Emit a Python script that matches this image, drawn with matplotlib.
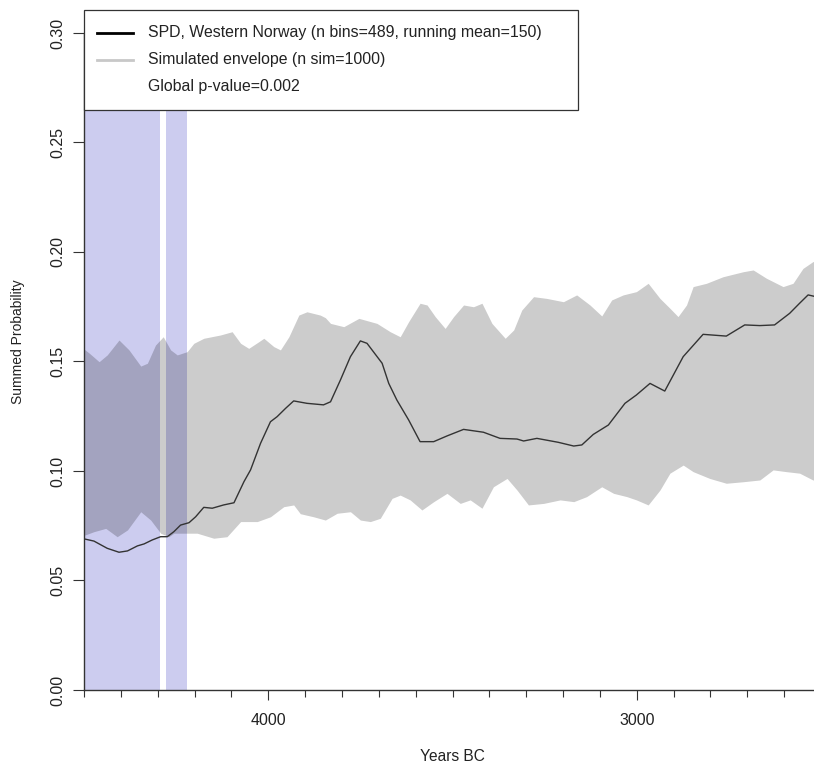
import numpy as np
import matplotlib
matplotlib.use("Agg")
import matplotlib.pyplot as plt
from matplotlib.patches import Rectangle
from matplotlib.lines import Line2D

plt.rcParams['font.family'] = ['Liberation Sans', 'DejaVu Sans']

# ---- data (Years BC, summed probability) ----
env_hi_years = [4500, 4497, 4485, 4459, 4437, 4405, 4378, 4346, 4328, 4306, 4285, 4265, 4247, 4220,
                4202, 4175, 4130, 4098, 4075, 4053, 4026, 4012, 3985, 3967, 3944, 3917, 3895,
                3859, 3845, 3831, 3795, 3754, 3705, 3669, 3642, 3619, 3588, 3569, 3547, 3520,
                3497, 3470, 3443, 3420, 3393, 3357, 3334, 3312, 3280, 3244, 3199, 3163, 3127,
                3095, 3068, 3037, 3001, 2969, 2937, 2910, 2888, 2865, 2847, 2811, 2766, 2711,
                2684, 2648, 2603, 2576, 2549, 2522, 2500]
env_hi = [0.1555, 0.1553, 0.1537, 0.1499, 0.1530, 0.1598, 0.1553, 0.1479, 0.1492, 0.1575, 0.1613,
          0.1553, 0.1530, 0.1545, 0.1583, 0.1606, 0.1621, 0.1636, 0.1583, 0.1560, 0.1590, 0.1606,
          0.1568, 0.1553, 0.1613, 0.1712, 0.1727, 0.1712, 0.1700, 0.1674, 0.1659, 0.1697, 0.1674,
          0.1636, 0.1613, 0.1682, 0.1766, 0.1758, 0.1705, 0.1651, 0.1705, 0.1758, 0.1750, 0.1766,
          0.1674, 0.1606, 0.1644, 0.1735, 0.1796, 0.1788, 0.1773, 0.1804, 0.1758, 0.1708, 0.1781,
          0.1804, 0.1819, 0.1857, 0.1788, 0.1743, 0.1705, 0.1758, 0.1842, 0.1857, 0.1887, 0.1910,
          0.1918, 0.1880, 0.1842, 0.1857, 0.1925, 0.1956, 0.1965]

env_lo_years = [4500, 4497, 4473, 4441, 4410, 4382, 4346, 4319, 4292, 4270, 4256, 4193, 4148, 4112,
                4075, 4030, 3994, 3958, 3931, 3913, 3877, 3845, 3813, 3777, 3750, 3723, 3696,
                3664, 3642, 3615, 3583, 3551, 3515, 3479, 3452, 3420, 3389, 3352, 3325, 3294,
                3253, 3208, 3171, 3136, 3095, 3063, 3027, 3001, 2969, 2937, 2910, 2874, 2847,
                2802, 2757, 2711, 2666, 2630, 2594, 2558, 2522, 2500]
env_lo = [0.0708, 0.0708, 0.0723, 0.0738, 0.0700, 0.0731, 0.0814, 0.0776, 0.0716, 0.0700, 0.0716,
          0.0716, 0.0693, 0.0700, 0.0769, 0.0769, 0.0791, 0.0837, 0.0845, 0.0805, 0.0791, 0.0776,
          0.0807, 0.0814, 0.0776, 0.0769, 0.0784, 0.0875, 0.0890, 0.0868, 0.0822, 0.0860, 0.0898,
          0.0852, 0.0868, 0.0830, 0.0928, 0.0966, 0.0913, 0.0845, 0.0852, 0.0868, 0.0860, 0.0883,
          0.0928, 0.0898, 0.0883, 0.0868, 0.0845, 0.0913, 0.0990, 0.1027, 0.0997, 0.0966, 0.0944,
          0.0951, 0.0959, 0.1005, 0.0997, 0.0990, 0.0959, 0.0955]

spd_years = [4500, 4497, 4473, 4437, 4405, 4382, 4355, 4337, 4315, 4292, 4274, 4256, 4238, 4215,
             4197, 4175, 4152, 4121, 4093, 4066, 4048, 4021, 3994, 3976, 3953, 3931, 3895, 3850,
             3831, 3804, 3777, 3750, 3732, 3691, 3673, 3651, 3619, 3588, 3551, 3515, 3470, 3416,
             3371, 3325, 3307, 3271, 3213, 3171, 3149, 3118, 3077, 3032, 3001, 2964, 2924, 2874,
             2820, 2757, 2707, 2666, 2626, 2585, 2558, 2535, 2522, 2500]
spd = [0.0690, 0.0689, 0.0680, 0.0647, 0.0629, 0.0635, 0.0658, 0.0667, 0.0685, 0.0700, 0.0700,
       0.0723, 0.0753, 0.0764, 0.0791, 0.0834, 0.0830, 0.0845, 0.0855, 0.0951, 0.1005, 0.1126,
       0.1225, 0.1248, 0.1286, 0.1320, 0.1309, 0.1302, 0.1316, 0.1416, 0.1522, 0.1594, 0.1583,
       0.1492, 0.1400, 0.1324, 0.1233, 0.1134, 0.1134, 0.1160, 0.1190, 0.1177, 0.1149, 0.1146,
       0.1137, 0.1149, 0.1131, 0.1114, 0.1119, 0.1167, 0.1210, 0.1309, 0.1347, 0.1400, 0.1365,
       0.1522, 0.1624, 0.1616, 0.1667, 0.1664, 0.1667, 0.1720, 0.1766, 0.1804, 0.1799, 0.1790]

# periods where the SPD falls below the envelope (start, end in years BC)
neg_start = [4500, 4278]
neg_end = [4294, 4220]

y_ticks = [0.00, 0.05, 0.10, 0.15, 0.20, 0.25, 0.30]
x_major = [4000, 3000]
x_minor = list(range(2500, 4501, 100))

legend_labels = ["SPD, Western Norway (n bins=489, running mean=150)",
                 "Simulated envelope (n sim=1000)",
                 "Global p-value=0.002"]

# ---- figure ----
W, H = 814, 767
fig = plt.figure(figsize=(W / 100, H / 100), dpi=100)
ax = fig.add_axes([84 / W, 77 / H, 737 / W, 680 / H])
ax.set_xlim(4500, 2500)
ax.set_ylim(0, 0.3105)

for s, e in zip(neg_start, neg_end):
    ax.axvspan(s, e, color=(0, 0, 0.7, 0.2), lw=0, zorder=1)

# common grid for envelope
grid = np.array(sorted(set(env_hi_years) | set(env_lo_years)), dtype=float)
hi = np.interp(grid, env_hi_years[::-1], env_hi[::-1])
lo = np.interp(grid, env_lo_years[::-1], env_lo[::-1])
ax.fill_between(grid, lo, hi, color=(0, 0, 0, 0.2), lw=0, zorder=2)

ax.plot(spd_years, spd, color='#333333', lw=1.0, zorder=3)

# axes styling
for sp in ['top', 'right']:
    ax.spines[sp].set_visible(False)
ax.spines['left'].set_bounds(0, 0.30)
ax.spines['bottom'].set_bounds(2500, 4500)
ax.spines['left'].set_linewidth(1.0)
ax.spines['bottom'].set_linewidth(1.0)
ax.spines['left'].set_color('#333333')
ax.spines['bottom'].set_color('#333333')

ax.set_yticks(y_ticks)
ax.set_yticklabels([f"{v:.2f}" for v in y_ticks], rotation=90, va='center', fontsize=11.5)
ax.set_xticks(x_major)
ax.set_xticklabels([str(v) for v in x_major], fontsize=11.5)
ax.set_xticks([v for v in x_minor if v not in x_major], minor=True)
ax.tick_params(axis='y', length=7.7, width=0.8, pad=6, color='#333333', labelcolor='#222222')
ax.tick_params(axis='x', which='major', length=7.5, width=0.8, pad=9, color='#333333',
               labelcolor='#222222')
ax.tick_params(axis='x', which='minor', length=5, width=0.8, color='#333333')

ax.set_xlabel("Years BC", fontsize=11.2, color='#222222')
ax.xaxis.set_label_coords(0.5, (690 - 749) / 680)
ax.set_ylabel("Summed Probability", fontsize=10, color='#222222')
ax.yaxis.set_label_coords((25 - 84) / 737, (690 - 342) / 680)

# legend (drawn manually to match R's legend box)
def axx(px):
    return (px - 84) / 737

def axy(py):
    return (690 - py) / 680

ax.add_patch(Rectangle((0, axy(110)), axx(578), 1 - axy(110), transform=ax.transAxes,
                       facecolor='white', edgecolor='#333333', lw=0.9, zorder=10, clip_on=False))
rows = [33, 59.5, 86]
ax.add_line(Line2D([axx(97), axx(133)], [axy(rows[0])] * 2, transform=ax.transAxes,
                   color='black', lw=2, zorder=11))
ax.add_line(Line2D([axx(97), axx(133)], [axy(rows[1])] * 2, transform=ax.transAxes,
                   color='#c8c8c8', lw=2, zorder=11))
for r, lab in zip(rows, legend_labels):
    ax.text(axx(148), axy(r), lab, transform=ax.transAxes, fontsize=11.4, va='center',
            ha='left', zorder=12, color='#222222')

fig.savefig("out.png", dpi=100)
